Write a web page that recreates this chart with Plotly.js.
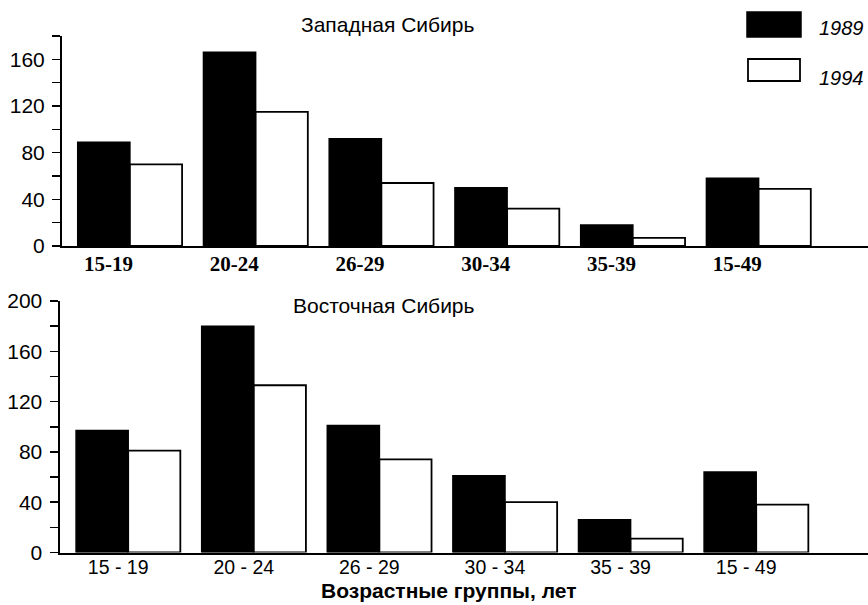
<!DOCTYPE html>
<html>
<head>
<meta charset="utf-8">
<script src="https://cdn.plot.ly/plotly-3.0.1.min.js"></script>
<style>html,body{margin:0;padding:0;background:#fff;}#chart{width:868px;height:605px;}</style>
</head>
<body>
<div id="chart"></div>
<script>
// ---- data ----
const categories = [0, 1, 2, 3, 4, 5];
const topLabels = ["15-19", "20-24", "26-29", "30-34", "35-39", "15-49"];
const bottomLabels = ["15 - 19", "20 - 24", "26 - 29", "30 - 34", "35 - 39", "15 - 49"];
const seriesNames = ["1989", "1994"];
const west1989 = [89, 166, 92, 50, 18, 58];
const west1994 = [70, 115, 54, 32, 7, 49];
const east1989 = [97, 180, 101, 61, 26, 64];
const east1994 = [81, 133, 74, 40, 11, 38];
const panelTitles = ["Западная Сибирь", "Восточная Сибирь"];
const xTitle = "Возрастные группы, лет";

const W = 868, H = 605;
const px = v => v / W;
const py = v => 1 - v / H;

const barStyle = [
  {color: "#000000", line: {color: "#000000", width: 1.5}},
  {color: "#ffffff", line: {color: "#000000", width: 1.8}}
];

const traces = [
  {type: "bar", x: categories, y: west1989, name: seriesNames[0], marker: barStyle[0], xaxis: "x", yaxis: "y", showlegend: false, hoverinfo: "skip"},
  {type: "bar", x: categories, y: west1994, name: seriesNames[1], marker: barStyle[1], xaxis: "x", yaxis: "y", showlegend: false, hoverinfo: "skip"},
  {type: "bar", x: categories, y: east1989, name: seriesNames[0], marker: barStyle[0], xaxis: "x2", yaxis: "y2", showlegend: false, hoverinfo: "skip"},
  {type: "bar", x: categories, y: east1994, name: seriesNames[1], marker: barStyle[1], xaxis: "x2", yaxis: "y2", showlegend: false, hoverinfo: "skip"}
];

const sans = "Liberation Sans, Arial, sans-serif";
const serif = "Liberation Serif, Times New Roman, serif";

const yCommon = {
  showline: true, linecolor: "#000", linewidth: 2,
  ticks: "outside", ticklen: 8, tickwidth: 1.5, tickcolor: "#000",
  tickmode: "linear", tick0: 0, dtick: 40,
  minor: {dtick: 20, tick0: 0, ticks: "outside", ticklen: 8, tickwidth: 1.5, tickcolor: "#000"},
  showgrid: false, zeroline: false,
  ticklabelstandoff: 3,
  tickfont: {family: sans, size: 21, color: "#000"},
  fixedrange: true
};
const xCommon = {
  showline: true, linecolor: "#000", linewidth: 2,
  ticks: "", showgrid: false, zeroline: false,
  tickmode: "array", fixedrange: true
};

const layout = {
  width: W, height: H,
  margin: {l: 0, r: 0, t: 0, b: 0},
  paper_bgcolor: "#fff", plot_bgcolor: "rgba(0,0,0,0)",
  barmode: "group", bargap: 0.17, bargroupgap: 0,
  xaxis: Object.assign({}, xCommon, {
    domain: [px(62), 1], anchor: "y", range: [-0.54, 5.87],
    tickvals: categories.map(c => c - 0.17), ticktext: topLabels,
    ticklabelstandoff: -2,
    tickfont: {family: serif, size: 21, color: "#000", weight: "bold"}
  }),
  yaxis: Object.assign({}, yCommon, {
    domain: [py(246), py(36)], anchor: "x", range: [0, 180]
  }),
  xaxis2: Object.assign({}, xCommon, {
    domain: [px(59.5), 1], anchor: "y2", range: [-0.547, 5.89],
    tickvals: categories.map(c => c - 0.08), ticktext: bottomLabels,
    ticklabelstandoff: -4,
    tickfont: {family: sans, size: 19.5, color: "#000"}
  }),
  yaxis2: Object.assign({}, yCommon, {
    domain: [py(552.5), py(301)], anchor: "x2", range: [0, 200]
  }),
  shapes: [
    {type: "rect", xref: "paper", yref: "paper", x0: px(747), x1: px(801), y0: py(37), y1: py(12), fillcolor: "#000", line: {color: "#000", width: 1.5}},
    {type: "rect", xref: "paper", yref: "paper", x0: px(748), x1: px(800), y0: py(81), y1: py(59), fillcolor: "#fff", line: {color: "#000", width: 1.8}}
  ],
  annotations: [
    {text: panelTitles[0], xref: "paper", yref: "paper", x: px(387), y: py(24), xanchor: "center", yanchor: "middle", showarrow: false, font: {family: sans, size: 21, color: "#000"}},
    {text: panelTitles[1], xref: "paper", yref: "paper", x: px(384), y: py(305), xanchor: "center", yanchor: "middle", showarrow: false, font: {family: sans, size: 21, color: "#000"}},
    {text: seriesNames[0], xref: "paper", yref: "paper", x: px(817), y: py(28), xanchor: "left", yanchor: "middle", showarrow: false, font: {family: sans, size: 20, color: "#000", style: "italic"}},
    {text: seriesNames[1], xref: "paper", yref: "paper", x: px(817), y: py(78), xanchor: "left", yanchor: "middle", showarrow: false, font: {family: sans, size: 20, color: "#000", style: "italic"}},
    {text: "<b>" + xTitle + "</b>", xref: "paper", yref: "paper", x: px(448), y: py(604), xanchor: "center", yanchor: "bottom", showarrow: false, font: {family: sans, size: 21, color: "#000"}}
  ]
};

Plotly.newPlot("chart", traces, layout, {displayModeBar: false, staticPlot: true});
</script>
</body>
</html>
